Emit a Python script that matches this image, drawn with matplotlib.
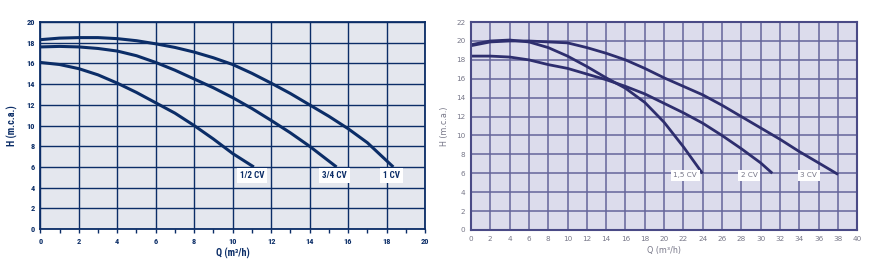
import numpy as np
import matplotlib.pyplot as plt
from matplotlib import font_manager

# curvas izquierda (Q m3/h, H m.c.a.)
q_half = [0, 1, 2, 3, 4, 5, 6, 7, 8, 9, 10, 11.1]
h_half = [16.1, 15.9, 15.5, 14.9, 14.1, 13.2, 12.2, 11.2, 10.0, 8.7, 7.3, 6.0]
q_34 = [0, 1, 2, 3, 4, 5, 6, 7, 8, 9, 10, 11, 12, 13, 14, 15.4]
h_34 = [17.6, 17.65, 17.6, 17.45, 17.2, 16.75, 16.1, 15.35, 14.5, 13.65, 12.7, 11.65, 10.5, 9.3, 8.0, 6.0]
q_1 = [0, 1, 2, 3, 4, 5, 6, 7, 8, 9, 10, 11, 12, 13, 14, 15, 16, 17, 18.35]
h_1 = [18.3, 18.45, 18.5, 18.5, 18.4, 18.2, 17.9, 17.55, 17.1, 16.55, 15.9, 15.05, 14.1, 13.1, 12.0, 10.9, 9.7, 8.35, 6.0]
labels_left = ["1/2 CV", "3/4 CV", "1 CV"]

# curvas derecha
q_15 = [0, 2, 4, 6, 8, 10, 12, 14, 16, 18, 20, 22, 23.9]
h_15 = [19.6, 20.0, 20.1, 19.9, 19.3, 18.4, 17.3, 16.1, 15.0, 13.5, 11.4, 8.8, 6.1]
q_2 = [0, 2, 4, 6, 8, 10, 12, 14, 16, 18, 20, 22, 24, 26, 28, 30, 31.1]
h_2 = [18.4, 18.4, 18.3, 18.0, 17.5, 17.1, 16.5, 15.9, 15.2, 14.4, 13.4, 12.4, 11.3, 10.0, 8.6, 7.1, 6.1]
q_3 = [0, 2, 4, 6, 8, 10, 12, 14, 16, 18, 20, 22, 24, 26, 28, 30, 32, 34, 36, 37.9]
h_3 = [19.5, 19.9, 20.0, 20.0, 19.9, 19.8, 19.3, 18.7, 18.0, 17.1, 16.1, 15.2, 14.3, 13.2, 12.0, 10.8, 9.6, 8.3, 7.1, 5.95]
labels_right = ["1,5 CV", "2 CV", "3 CV"]
label_x_right = [22.2, 28.8, 35.0]

navy = "#0b2d67"
purple = "#2e2e6e"

# fuente estrecha si existe
names = {f.name for f in font_manager.fontManager.ttflist}
narrow = next((n for n in ["Liberation Sans Narrow", "DejaVu Sans Condensed", "Roboto Condensed"] if n in names), None)
font = [narrow, "DejaVu Sans"] if narrow else ["DejaVu Sans"]
tsize = 6 if narrow else 5.2

fig = plt.figure(figsize=(8.92, 2.76), dpi=100)

# ---- izquierda
ax = fig.add_axes([0.0452, 0.170, 0.4313, 0.750])
ax.set_facecolor("#e4e7ee")
ax.set_xlim(0, 20)
ax.set_ylim(0, 20)
ax.set_xticks(np.arange(0, 21, 2))
ax.set_xticks(np.arange(1, 20, 2), minor=True)
ax.set_yticks(np.arange(0, 21, 2))
ax.grid(True, which="major", color=navy, lw=1.0)
ax.set_axisbelow(True)
for s in ax.spines.values():
    s.set_color(navy)
    s.set_linewidth(1.3)
ax.tick_params(which="both", colors=navy, length=3, width=1, labelsize=tsize)
ax.tick_params(axis="y", length=0, pad=4)
for t in ax.get_xticklabels() + ax.get_yticklabels():
    t.set_fontweight("bold")
    t.set_family(font)
for q, h, lab in zip([q_half, q_34, q_1], [h_half, h_34, h_1], labels_left):
    ax.plot(q, h, color=navy, lw=2.2, solid_capstyle="butt")
    ax.text(q[-1] - 0.1, 5.2, lab, color=navy, fontsize=tsize + 0.5, fontweight="bold", family=font,
            ha="center", va="center",
            bbox=dict(facecolor="white", edgecolor="none", pad=2.2))
ax.set_xlabel("Q (m³/h)", color=navy, fontsize=tsize + 1.2, fontweight="bold", family=font, labelpad=2)
ax.set_ylabel("H (m.c.a.)", color=navy, fontsize=tsize + 1.2, fontweight="bold", family=font, labelpad=6)

# ---- derecha
ax2 = fig.add_axes([0.528, 0.1667, 0.433, 0.7533])
ax2.set_facecolor("#dcdcec")
ax2.set_xlim(0, 40)
ax2.set_ylim(0, 22)
ax2.set_xticks(np.arange(0, 41, 2))
ax2.set_yticks(np.arange(0, 23, 2))
ax2.grid(True, color="#65659a", lw=1.1)
ax2.set_axisbelow(True)
for s in ax2.spines.values():
    s.set_color("#4a4a86")
    s.set_linewidth(1.5)
ax2.tick_params(colors="#8a8a9a", length=0, labelsize=5.2, pad=4)
for t in ax2.get_xticklabels() + ax2.get_yticklabels():
    t.set_color("#777788")
for q, h, lab, lx in zip([q_15, q_2, q_3], [h_15, h_2, h_3], labels_right, label_x_right):
    ax2.plot(q, h, color=purple, lw=2.0)
    ax2.text(lx, 5.8, lab, color="#777788", fontsize=5.2, ha="center", va="center",
             bbox=dict(facecolor="white", edgecolor="none", pad=1.8))
ax2.set_xlabel("Q (m³/h)", color="#777788", fontsize=5.8, labelpad=3)
ax2.set_ylabel("H (m.c.a.)", color="#777788", fontsize=5.8, labelpad=5)

fig.savefig("out.png", dpi=100)
